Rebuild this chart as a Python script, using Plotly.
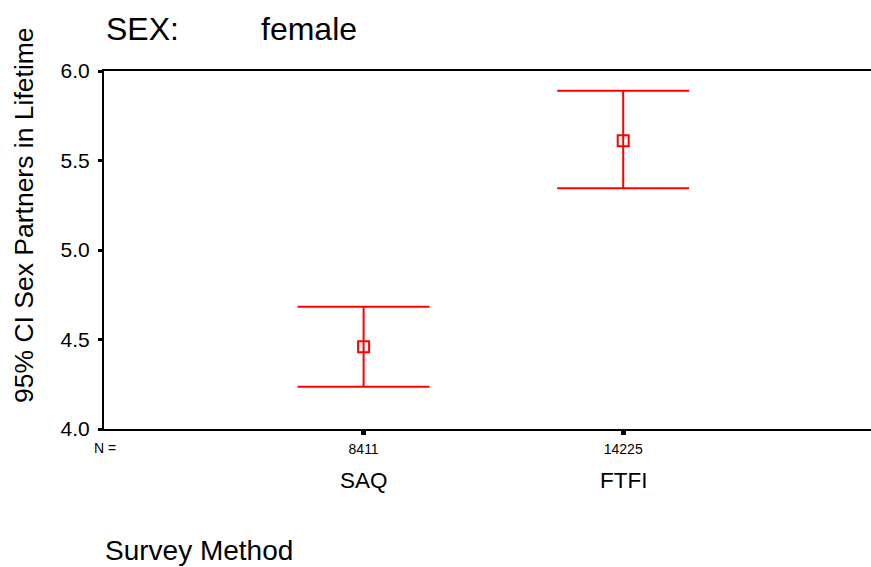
import plotly.graph_objects as go

# Data
categories = ["SAQ", "FTFI"]
n_values = ["8411", "14225"]
means = [4.460, 5.611]
upper = [4.683, 5.890]
lower = [4.236, 5.345]

x_pos = [1, 2]
err_plus = [u - m for u, m in zip(upper, means)]
err_minus = [m - l for m, l in zip(means, lower)]

FONT = "Liberation Sans, Arial, sans-serif"
RED = "#ff0000"

W, H = 871, 567
L, R, T, B = 104, 0, 71, 138
pw, ph = W - L - R, H - T - B

def px(xp):
    return (xp - L) / pw

def py(yp):
    return (H - B - yp) / ph

fig = go.Figure()
fig.add_trace(go.Scatter(
    x=x_pos, y=means, mode="markers",
    marker=dict(symbol="square-open", size=11, color=RED, line=dict(width=2, color=RED)),
    error_y=dict(type="data", array=err_plus, arrayminus=err_minus, symmetric=False,
                 color=RED, thickness=2, width=66),
    showlegend=False, hoverinfo="skip",
))

fig.update_layout(
    width=W, height=H,
    margin=dict(l=L, r=R, t=T, b=B, pad=0),
    paper_bgcolor="white", plot_bgcolor="white",
    font=dict(family=FONT, color="black"),
    xaxis=dict(range=[0, pw / 259.6], tickmode="array", tickvals=x_pos, ticktext=n_values,
               showgrid=False, zeroline=False, showline=True, linecolor="black", linewidth=2,
               mirror=True, ticks="outside", ticklen=4, tickwidth=5, tickcolor="black",
               tickfont=dict(size=14, family=FONT), ticklabelstandoff=2),
    yaxis=dict(range=[4.0, 6.0], tickmode="array", tickvals=[4.0, 4.5, 5.0, 5.5, 6.0],
               ticktext=["4.0", "4.5", "5.0", "5.5", "6.0"],
               showgrid=False, zeroline=False, showline=True, linecolor="black", linewidth=2,
               ticks="outside", ticklen=4, tickwidth=3, tickcolor="black",
               tickfont=dict(size=21, family=FONT), ticklabelstandoff=4),
)

annotations = [
    dict(text="SEX:", x=px(104), y=py(29), xanchor="left", yanchor="middle", font=dict(size=32)),
    dict(text="female", x=px(259), y=py(29), xanchor="left", yanchor="middle", font=dict(size=32)),
    dict(text="95% CI Sex Partners in Lifetime", x=px(24), y=py(215), textangle=-90,
         xanchor="center", yanchor="middle", font=dict(size=26.5)),
    dict(text="Survey Method", x=px(103), y=py(550), xanchor="left", yanchor="middle", font=dict(size=28)),
    dict(text="N =", x=px(104.5), y=py(448), xanchor="center", yanchor="middle", font=dict(size=14)),
]
for a in annotations:
    a.update(xref="paper", yref="paper", showarrow=False)
    a["font"]["family"] = FONT
    a["font"]["color"] = "black"

for xv, cat in zip(x_pos, categories):
    annotations.append(dict(text=cat, x=xv, xref="x", y=py(480), yref="paper",
                            xanchor="center", yanchor="middle", showarrow=False,
                            font=dict(size=22.5, family=FONT, color="black")))

fig.update_layout(annotations=annotations)
fig.write_html("out.html")
